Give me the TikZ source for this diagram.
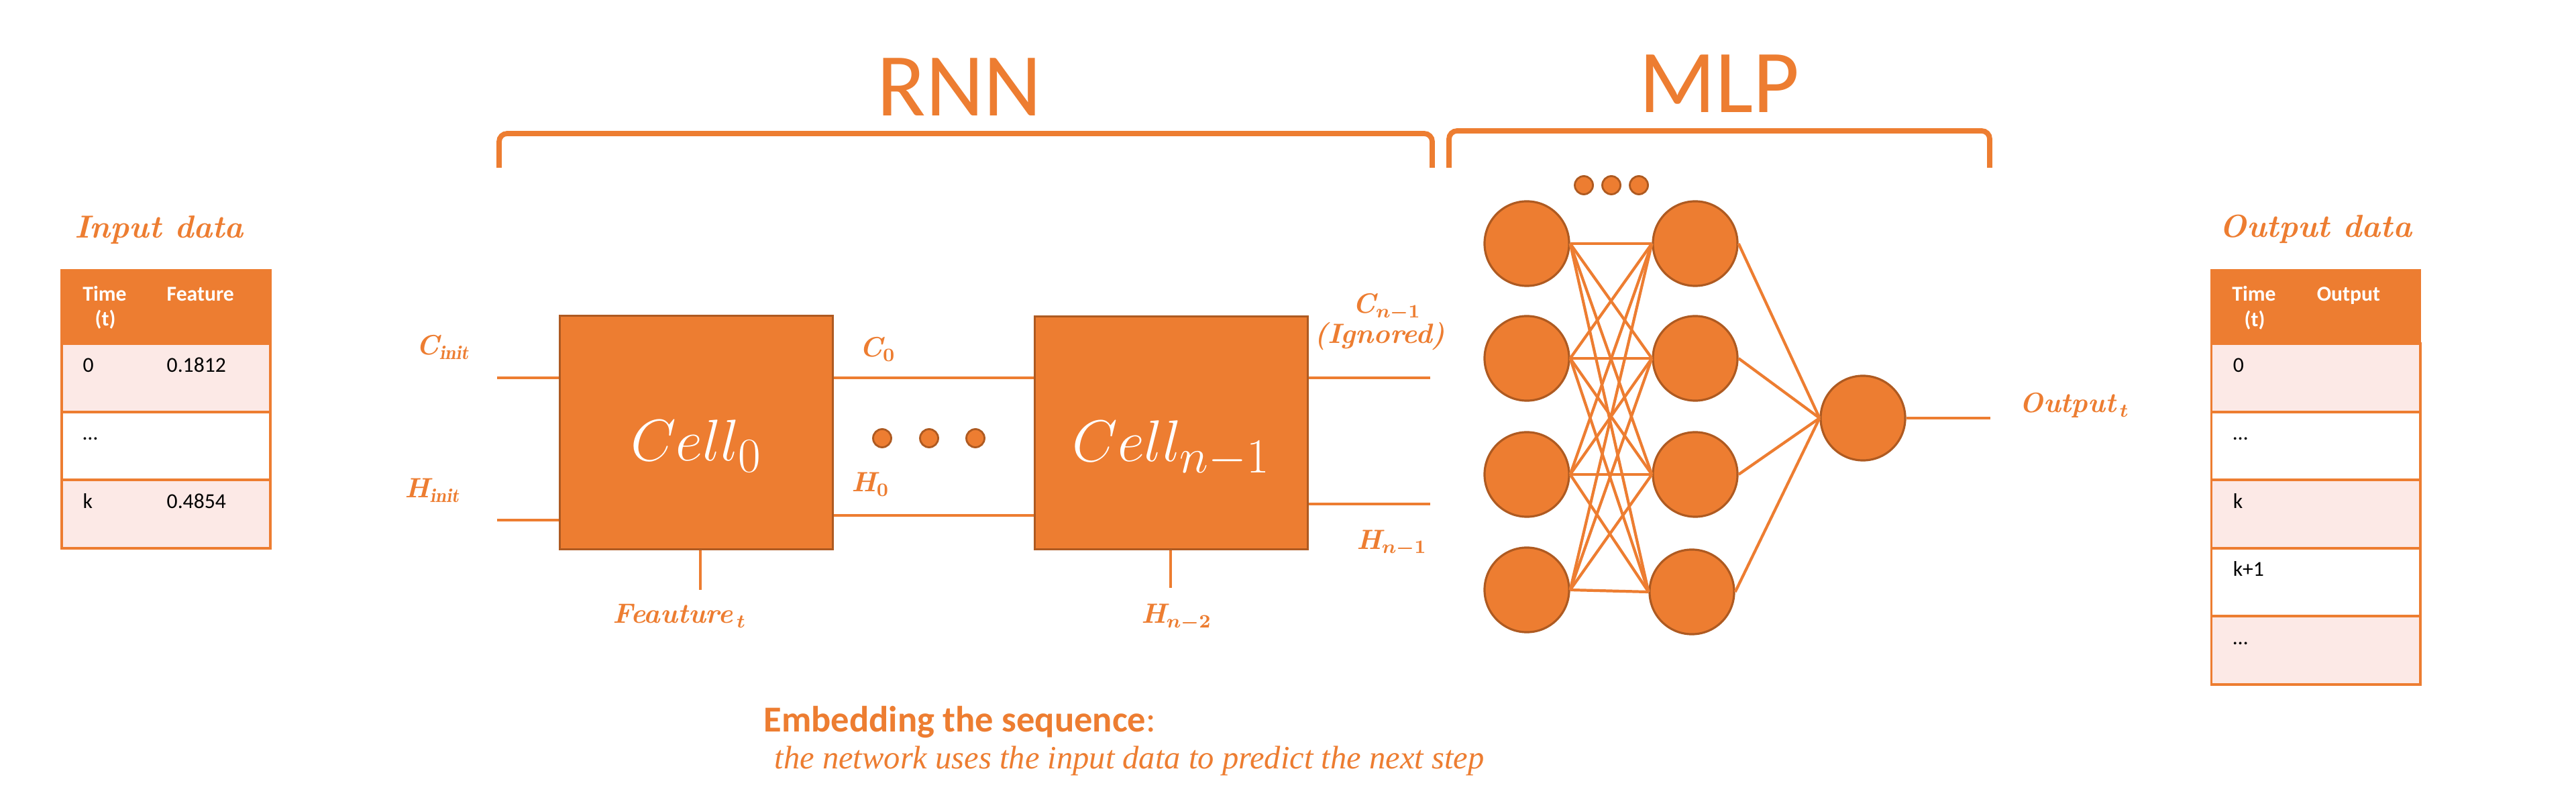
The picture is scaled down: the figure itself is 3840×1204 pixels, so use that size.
\documentclass[tikz,border=0pt]{standalone}
\usepackage{fontspec}
\newfontfamily\calibri{Carlito}
\newfontfamily\timesfont{Liberation Serif}
\definecolor{org}{HTML}{ED7D31}
\definecolor{orgdark}{HTML}{AE5A21}
\definecolor{orglight}{HTML}{FCE9E6}
\begin{document}
\begin{tikzpicture}[x=0.01cm,y=-0.01cm,
  lbl/.style={text=org, font=\fontsize{11.8}{13}\selectfont\bfseries\itshape\boldmath, inner sep=0, anchor=base west},
  wire/.style={draw=org, line width=1.2pt},
  cellbox/.style={rectangle, fill=org, draw=orgdark, line width=0.9pt, minimum width=4.06cm, minimum height=3.47cm, text=white, font=\fontsize{27.5}{30}\selectfont, text height=24pt, text depth=0pt, inner sep=0},
  neuron/.style={circle, fill=org, draw=orgdark, line width=0.9pt, minimum size=1.26cm, inner sep=0},
  dotn/.style={circle, fill=org, draw=orgdark, line width=0.8pt, minimum size=0.27cm, inner sep=0},
  bracketline/.style={draw=org, line width=2.2pt, rounded corners=0.12cm},
  hdr/.style={rectangle, fill=org, draw=org, line width=1pt, minimum width=3.11cm, minimum height=1.09cm, inner sep=0},
  rowa/.style={rectangle, fill=orglight, draw=org, line width=1.1pt, minimum width=3.11cm, minimum height=1.016cm, inner sep=0},
  rowb/.style={rowa, fill=white},
  tcell/.style={font=\calibri\fontsize{9}{11}\selectfont, inner sep=0, anchor=base west},
  thead/.style={tcell, text=white, font=\calibri\bfseries\fontsize{9}{11}\selectfont},
  ttitle/.style={text=org, font=\fontsize{13.5}{15}\selectfont\bfseries\itshape, inner sep=0, anchor=base},
  bigtitle/.style={text=org, font=\calibri\fontsize{38}{40}\selectfont, inner sep=0, anchor=base}
]
\useasboundingbox (0,0) rectangle (3840,1204);
\fill[white] (0,0) rectangle (3840,1204);

% ---------- titles and brackets ----------
\node[bigtitle] (rnn) at (1430,173) {RNN};
\node[bigtitle] (mlp) at (2563,168) {MLP};
\draw[bracketline] (744,250) -- (744,199) -- (2135,199) -- (2135,250);
\draw[bracketline] (2160,250) -- (2160,195) -- (2966,195) -- (2966,250);

% ---------- input table ----------
\node[ttitle] (intitle) at (237,355) {Input data};
\node[hdr] (inhdr) at (247.5,457.5) {};
\node[rowa] (inr1) at (247.5,562.85) {};
\node[rowb] (inr2) at (247.5,664.5) {};
\node[rowa] (inr3) at (247.5,766.15) {};
\node[thead, anchor=base] (intime) at (156,449) {Time};
\node[thead, anchor=base] (int) at (157,486) {(t)};
\node[thead] (infeat) at (248,449) {Feature};
\node[tcell] (in0) at (123,554.5) {0};
\node[tcell] (in0v) at (248,554.5) {0.1812};
\node[tcell] (indots) at (123,656) {…};
\node[tcell] (ink) at (123,758) {k};
\node[tcell] (inkv) at (248,758) {0.4854};

% ---------- output table ----------
\node[ttitle] (outtitle) at (3452,354) {Output data};
\node[hdr] (outhdr) at (3452,457.5) {};
\node[rowa] (outr1) at (3452,562.8) {};
\node[rowb] (outr2) at (3452,664.4) {};
\node[rowa] (outr3) at (3452,766) {};
\node[rowb] (outr4) at (3452,867.6) {};
\node[rowa] (outr5) at (3452,969.2) {};
\node[thead, anchor=base] (outtime) at (3360,449) {Time};
\node[thead, anchor=base] (outt) at (3361,487) {(t)};
\node[thead] (outout) at (3453,449) {Output};
\node[tcell] (out0) at (3328,554.5) {0};
\node[tcell] (outdots) at (3328,656) {…};
\node[tcell] (outk) at (3328,758) {k};
\node[tcell] (outk1) at (3328,859) {k+1};
\node[tcell] (outdots2) at (3328,960) {…};

% ---------- RNN ----------
\node[cellbox] (c0) at (1038,644.5) {$Cell_0$};
\node[cellbox] (cn) at (1746,645) {$Cell_{n-1}$};
\coordinate (cinit) at (741,563);
\coordinate (hinit) at (741,775);
\coordinate (h0y) at (1390,768);
\coordinate (cout) at (2132,563);
\coordinate (hout) at (2132,751);
\coordinate (feat) at (1044,879);
\coordinate (hn2) at (1745,876);
\draw[wire] (cinit) -- (cinit -| c0.west);
\draw[wire] (hinit) -- (hinit -| c0.west);
\draw[wire] (c0.east |- cinit) -- (cn.west |- cinit);
\draw[wire] (c0.east |- h0y) -- (cn.west |- h0y);
\draw[wire] (cn.east |- cout) -- (cout);
\draw[wire] (cn.east |- hout) -- (hout);
\draw[wire] (c0.south -| feat) -- (feat);
\draw[wire] (cn.south -| hn2) -- (hn2);
\node[dotn] (rd1) at (1315,653) {};
\node[dotn] (rd2) at (1385,653) {};
\node[dotn] (rd3) at (1454,653) {};

\node[lbl] (lcinit) at (620,529) {C$_{\mathit{init}}$};
\node[lbl] (lhinit) at (603,742) {H$_{\mathit{init}}$};
\node[lbl] (lfeat) at (913,929) {Feauture$_{\,t}$};
\node[lbl] (lc0) at (1281,532) {C$_0$};
\node[lbl] (lh0) at (1269,733) {H$_0$};
\node[lbl] (lcn) at (2016,467) {C$_{n-1}$};
\node[lbl, anchor=base] (lign) at (2057,512) {(Ignored)};
\node[lbl] (lhn) at (2022,818) {H$_{n-1}$};
\node[lbl] (lhn2) at (1701,929) {H$_{n-2}$};

% ---------- MLP ----------
\node[dotn] (md1) at (2361,276) {};
\node[dotn] (md2) at (2402,276) {};
\node[dotn] (md3) at (2443,276) {};
\foreach \i/\yy in {1/363,2/534,3/707,4/879}{
  \node[neuron] (a\i) at (2276,\yy) {};
}
\node[neuron] (b1) at (2527,363) {};
\node[neuron] (b2) at (2527,534) {};
\node[neuron] (b3) at (2527,707) {};
\node[neuron] (b4) at (2522,882) {};
\node[neuron] (o) at (2777,623) {};
\coordinate (oend) at (2967,623);
\foreach \i in {1,...,4}{
  \foreach \j in {1,...,4}{
    \draw[wire] (a\i.east) -- (b\j.west);
  }
  \draw[wire] (b\i.east) -- (o.west);
}
\draw[wire] (o.east) -- (oend);
\node[lbl] (lout) at (3010,615) {Output$_{\,t}$};

% ---------- caption ----------
\node[anchor=base west, inner sep=0, text=org, font=\calibri\bfseries\fontsize{15.5}{18}\selectfont] (emb) at (1138,1090) {Embedding the sequence{\mdseries :}};
\node[anchor=base west, inner sep=0, text=org, font=\timesfont\itshape\fontsize{13.8}{15}\selectfont] (embsub) at (1154,1145) {the network uses the input data to predict the next step};
\end{tikzpicture}
\end{document}
